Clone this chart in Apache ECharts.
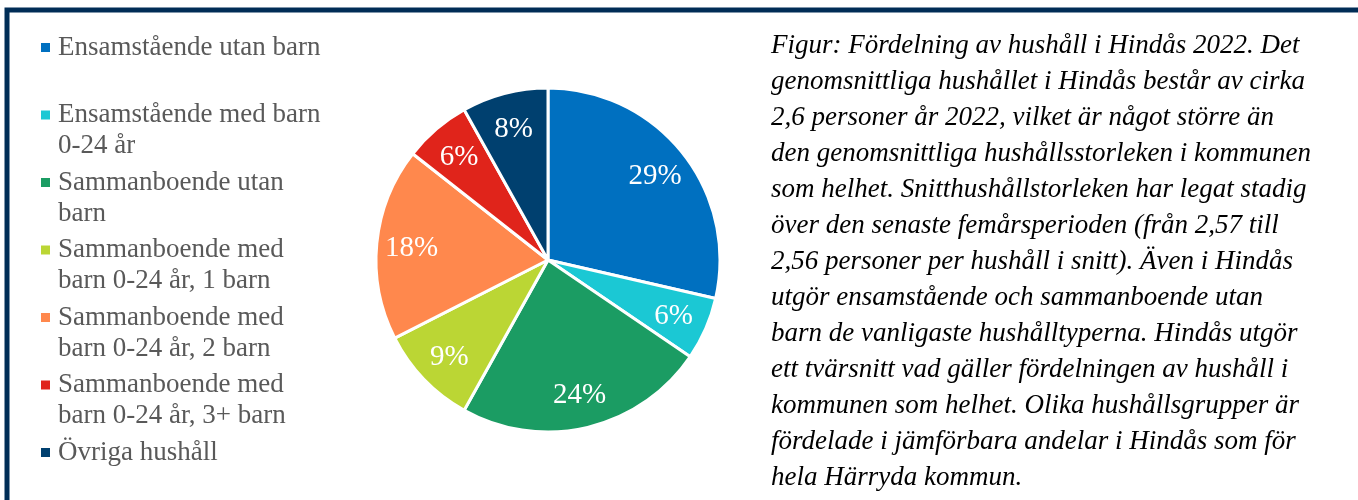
<!DOCTYPE html>
<html>
<head>
<meta charset="utf-8">
<script src="https://cdn.jsdelivr.net/npm/echarts@6/dist/echarts.min.js"></script>
<style>
  * { margin: 0; padding: 0; }
  body { background: #fff; }
  #main {
    width: 1358px;
    height: 500px;
  }
</style>
</head>
<body>
<div id="main"></div>
<script>
  // hushållstyper i Hindås 2022
  var categories = [
    'Ensamstående utan barn',
    'Ensamstående med barn 0-24 år',
    'Sammanboende utan barn',
    'Sammanboende med barn 0-24 år, 1 barn',
    'Sammanboende med barn 0-24 år, 2 barn',
    'Sammanboende med barn 0-24 år, 3+ barn',
    'Övriga hushåll'
  ];
  // radbrytning i legenden som i originalet
  var legendLabels = [
    'Ensamstående utan barn\n ',
    'Ensamstående med barn\n0-24 år',
    'Sammanboende utan\nbarn',
    'Sammanboende med\nbarn 0-24 år, 1 barn',
    'Sammanboende med\nbarn 0-24 år, 2 barn',
    'Sammanboende med\nbarn 0-24 år, 3+ barn',
    'Övriga hushåll\n '
  ];
  var shares = [28.6, 5.9, 23.6, 9.4, 18.1, 6.3, 8.1];
  var colors = ['#0070C0', '#1BC8D4', '#1B9C63', '#BBD634', '#FF884D', '#E0241B', '#00406F'];

  var captionLines = [
    'Figur: Fördelning av hushåll i Hindås 2022. Det',
    'genomsnittliga hushållet i Hindås består av cirka',
    '2,6 personer år 2022, vilket är något större än',
    'den genomsnittliga hushållsstorleken i kommunen',
    'som helhet. Snitthushållstorleken har legat stadig',
    'över den senaste femårsperioden (från 2,57 till',
    '2,56 personer per hushåll i snitt). Även i Hindås',
    'utgör ensamstående och sammanboende utan',
    'barn de vanligaste hushålltyperna. Hindås utgör',
    'ett tvärsnitt vad gäller fördelningen av hushåll i',
    'kommunen som helhet. Olika hushållsgrupper är',
    'fördelade i jämförbara andelar i Hindås som för',
    'hela Härryda kommun.'
  ];

  var serif = "'Times New Roman', 'Liberation Serif', serif";

  var pieData = categories.map(function (name, i) {
    return { name: name, value: shares[i], itemStyle: { color: colors[i] } };
  });

  var chart = echarts.init(document.getElementById('main'));
  chart.setOption({
    animation: false,
    color: colors,
    title: {
      text: captionLines.join('\n'),
      left: 771,
      top: 28,
      padding: 0,
      textStyle: {
        fontFamily: serif,
        fontStyle: 'italic',
        fontWeight: 'normal',
        fontSize: 27,
        lineHeight: 36,
        color: '#000'
      }
    },
    legend: {
      orient: 'vertical',
      left: 41,
      top: 32,
      height: 470,
      padding: 0,
      itemGap: 5.5,
      itemWidth: 12,
      itemHeight: 62,
      // fyrkant överst, tom yta under så att markören hamnar vid första raden
      icon: 'path://M0 11h9v9h-9z M12 0 M0 62',
      itemStyle: { borderWidth: 0 },
      data: categories,
      formatter: function (name) {
        return legendLabels[categories.indexOf(name)];
      },
      textStyle: {
        fontFamily: serif,
        fontSize: 27,
        lineHeight: 31,
        color: '#595959'
      }
    },
    series: [
      {
        type: 'pie',
        center: [548, 260],
        radius: [0, 172],
        startAngle: 90,
        clockwise: true,
        itemStyle: { borderColor: '#fff', borderWidth: 3 },
        label: { show: false },
        labelLine: { show: false },
        emphasis: { disabled: true },
        data: pieData
      },
      {
        // bara etiketter, placerade längre ut än mitten av radien
        type: 'pie',
        center: [548, 262],
        radius: [96, 172],
        startAngle: 90,
        clockwise: true,
        silent: true,
        itemStyle: { color: 'rgba(0,0,0,0)' },
        label: {
          show: true,
          position: 'inside',
          fontFamily: serif,
          fontSize: 29,
          color: '#fff',
          formatter: function (p) {
            return Math.round(p.percent) + '%';
          }
        },
        labelLine: { show: false },
        data: categories.map(function (name, i) {
          return { name: name, value: shares[i] };
        })
      }
    ],
    graphic: [
      {
        type: 'rect',
        shape: { x: 7, y: 10, width: 1400, height: 600 },
        style: { fill: 'none', stroke: '#002D56', lineWidth: 5 },
        silent: true,
        z: -1
      }
    ]
  });
</script>
</body>
</html>
